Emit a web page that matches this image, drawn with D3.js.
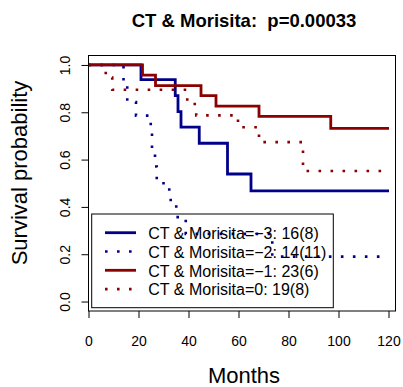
<!DOCTYPE html>
<html>
<head>
<meta charset="utf-8">
<script src="https://cdn.jsdelivr.net/npm/d3@7"></script>
<style>
  body { margin: 0; background: #fff; }
  text { font-family: "Liberation Sans", Arial, sans-serif; }
</style>
</head>
<body>
<svg id="svg1" width="403" height="387"></svg>
<script>
var svg = d3.select('#svg1');

// Kaplan-Meier steps (months, survival)
var timesM3 = [0, 21, 34.7, 35.8, 37, 44.3, 55.6, 65, 120.2];
var survM3  = [1, 0.938, 0.870, 0.803, 0.737, 0.669, 0.539, 0.468, 0.468];

var timesM2 = [0, 14, 15.5, 19, 24.9, 25.4, 26.6, 27.3, 32.3, 35.1, 38.9, 73.5, 118];
var survM2  = [1, 0.929, 0.843, 0.786, 0.714, 0.643, 0.571, 0.5, 0.429, 0.357, 0.286, 0.19, 0.19];

var timesM1 = [0, 21.6, 26.8, 45, 51, 68.2, 96.9, 120.2];
var survM1  = [1, 0.957, 0.913, 0.870, 0.826, 0.783, 0.732, 0.732];

var times0 = [0, 6.9, 9.5, 39.5, 43.1, 59.8, 68.2, 85.8, 119];
var surv0  = [1, 0.947, 0.895, 0.835, 0.787, 0.737, 0.674, 0.552, 0.552];

var groupLabels = ['CT & Morisita=\u22123: 16(8)', 'CT & Morisita=\u22122: 14(11)',
                   'CT & Morisita=\u22121: 23(6)', 'CT & Morisita=0: 19(8)'];
var groupColors = ['#00008b', '#00008b', '#8b0000', '#8b0000'];
var groupDashed = [false, true, false, true];

var xTicks = [0, 20, 40, 60, 80, 100, 120];
var yTicks = [0, 0.2, 0.4, 0.6, 0.8, 1.0];

var groups = [[timesM3, survM3], [timesM2, survM2], [timesM1, survM1], [times0, surv0]];

var box = {l: 88.5, r: 395.5, t: 55.5, b: 311};

var x = d3.scaleLinear().domain([0, 122.8]).range([box.l, box.r]);
var y = d3.scaleLinear().domain([-0.04, 1.04]).range([box.b, box.t]);

// x axis
var xAxis = svg.append('g')
    .attr('transform', 'translate(0,' + box.b + ')')
    .call(d3.axisBottom(x).tickValues(xTicks).tickSize(7).tickSizeOuter(0).tickPadding(20));
xAxis.select('.domain').remove();
xAxis.selectAll('line').attr('stroke', '#000');
xAxis.selectAll('text').style('font-size', '14px').attr('fill', '#000')
    .attr('dy', null).attr('y', 34.5);

// y axis (labels rotated like R's default)
var yAxis = svg.append('g')
    .attr('transform', 'translate(' + box.l + ',0)')
    .call(d3.axisLeft(y).tickValues(yTicks).tickSize(7).tickSizeOuter(0).tickFormat(d3.format('.1f')));
yAxis.select('.domain').remove();
yAxis.selectAll('line').attr('stroke', '#000');
yAxis.selectAll('text')
    .style('font-size', '14px').attr('fill', '#000')
    .attr('x', null).attr('dy', null)
    .attr('text-anchor', 'middle')
    .attr('transform', 'translate(-18.5,0) rotate(-90)');

// curves
var line = d3.line()
    .x(function(d) { return x(d[0]); })
    .y(function(d) { return y(d[1]); })
    .curve(d3.curveStepAfter);

groups.forEach(function(g, i) {
    var pts = g[0].map(function(t, j) { return [t, g[1][j]]; });
    svg.append('path')
        .attr('d', line(pts))
        .attr('fill', 'none')
        .attr('stroke', groupColors[i])
        .attr('stroke-width', groupDashed[i] ? 2.6 : 2.8)
        .attr('stroke-dasharray', groupDashed[i] ? '2.6 9.4' : null);
});

// plot frame
svg.append('rect')
    .attr('x', box.l).attr('y', box.t)
    .attr('width', box.r - box.l).attr('height', box.b - box.t)
    .attr('fill', 'none').attr('stroke', '#000').attr('stroke-width', 1);

// legend (transparent background)
var legend = svg.append('g');
legend.append('rect')
    .attr('x', 91.7).attr('y', 214).attr('width', 241.6).attr('height', 93.7)
    .attr('fill', 'none').attr('stroke', '#000').attr('stroke-width', 1);

groupLabels.forEach(function(lab, i) {
    var ry = 232.7 + i * 18.8;
    legend.append('line')
        .attr('x1', 105).attr('x2', 136).attr('y1', ry).attr('y2', ry)
        .attr('stroke', groupColors[i])
        .attr('stroke-width', groupDashed[i] ? 2.6 : 2.8)
        .attr('stroke-dasharray', groupDashed[i] ? '2.6 9.4' : null);
    legend.append('text')
        .attr('x', 148.3).attr('y', ry + 6.3)
        .text(lab)
        .style('font-size', '16px');
});

// titles
svg.append('text')
    .attr('x', 244).attr('y', 27)
    .attr('text-anchor', 'middle')
    .style('font-size', '18.5px').style('font-weight', 'bold')
    .text('CT & Morisita:  p=0.00033')
    .attr('xml:space', 'preserve');

svg.append('text')
    .attr('x', 244).attr('y', 383)
    .attr('text-anchor', 'middle')
    .style('font-size', '22px')
    .text('Months');

svg.append('text')
    .attr('transform', 'translate(27,173) rotate(-90)')
    .attr('text-anchor', 'middle')
    .style('font-size', '22px')
    .text('Survival probability');
</script>
</body>
</html>
